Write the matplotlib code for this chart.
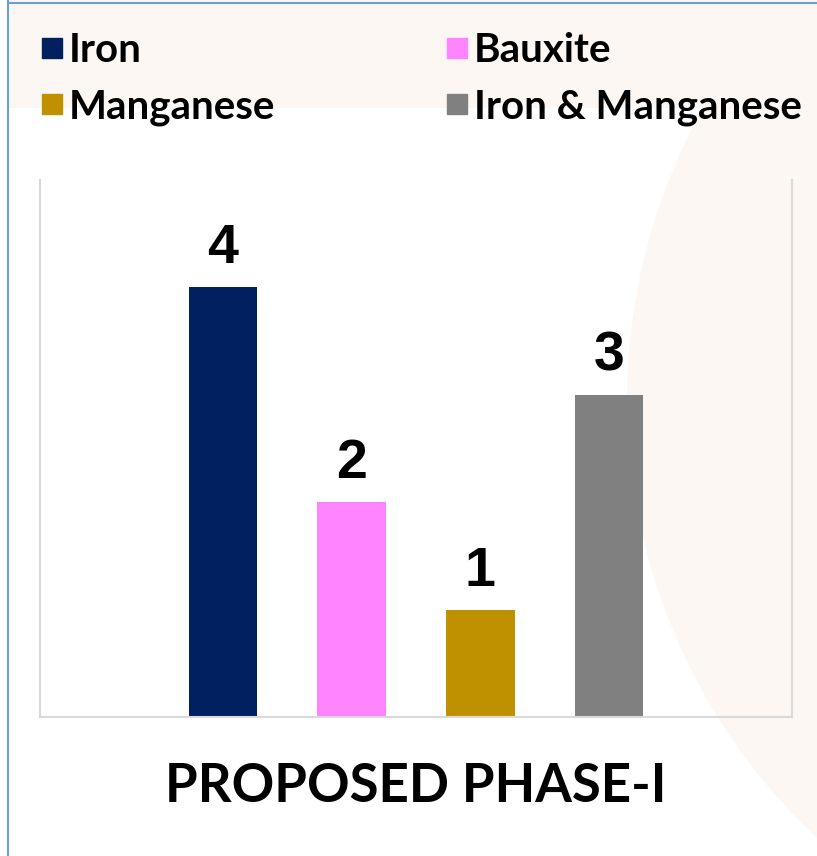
import matplotlib
matplotlib.use('Agg')
import matplotlib.pyplot as plt
from matplotlib.patches import Rectangle, Ellipse
from matplotlib.lines import Line2D

plt.rcParams['font.family'] = ['Lato', 'DejaVu Sans']

# 数据
series = ['Iron', 'Bauxite', 'Manganese', 'Iron & Manganese']
values = [4, 2, 1, 3]
colors = ['#002060', '#FF85FF', '#BF9000', '#808080']
title = 'PROPOSED PHASE-I'

W, H = 817, 856
fig = plt.figure(figsize=(W / 100, H / 100), dpi=100)
fig.patch.set_facecolor('white')

# 背景装饰：顶部浅色带 + 右侧大圆
peach = '#FDF7F3'
fig.add_artist(Rectangle((8 / W, 1 - 108 / H), 1, 108 / H, transform=fig.transFigure,
                         facecolor=peach, edgecolor='none', zorder=0))
fig.add_artist(Ellipse((1227 / W, 1 - 400 / H), 1200 / W, 1200 / H, transform=fig.transFigure,
                       facecolor=peach, edgecolor='none', zorder=0))
# 蓝色边框
fig.add_artist(Line2D([7.5 / W, 7.5 / W], [0, 1], transform=fig.transFigure, color='#6A9FD8', lw=1.5))
fig.add_artist(Line2D([7.5 / W, 1], [1 - 3 / H, 1 - 3 / H], transform=fig.transFigure, color='#6A9FD8', lw=1.5))

ax = fig.add_axes([40 / W, (H - 717) / H, (792 - 40) / W, (717 - 180) / H])
ax.set_facecolor('none')

xpos = [-1.5, -0.5, 0.5, 1.5]
bars = ax.bar(xpos, values, width=0.53, color=colors, zorder=2)
for x, v in zip(xpos, values):
    ax.text(x, v + 0.223, str(v), ha='center', va='baseline', fontsize=40, fontweight='bold',
            family=['Liberation Sans', 'DejaVu Sans'])

ax.set_xlim(-2.92, 2.92)
ax.set_ylim(0, 5)
ax.set_xticks([])
ax.set_yticks([])
ax.spines['top'].set_visible(False)
for s in ['left', 'right', 'bottom']:
    ax.spines[s].set_color('#D9D9D9')
    ax.spines[s].set_linewidth(1.5)

# 图例：两列，按行排列
order = [0, 2, 1, 3]
handles = [Line2D([], [], marker='s', ls='none', markersize=15, color=colors[i]) for i in order]
labels = [series[i] for i in order]
fig.legend(handles, labels, loc='upper left', bbox_to_anchor=(25.5 / W, 1 - 16 / H), ncol=2,
           frameon=False, prop={'size': 29, 'weight': 'bold'}, handlelength=0.5,
           handletextpad=0.18, columnspacing=4.25, labelspacing=0.47, borderaxespad=0)

fig.text(416 / W, 1 - 787 / H, title, ha='center', va='center', fontsize=38, fontweight='bold')

fig.savefig('out.png', dpi=100)
